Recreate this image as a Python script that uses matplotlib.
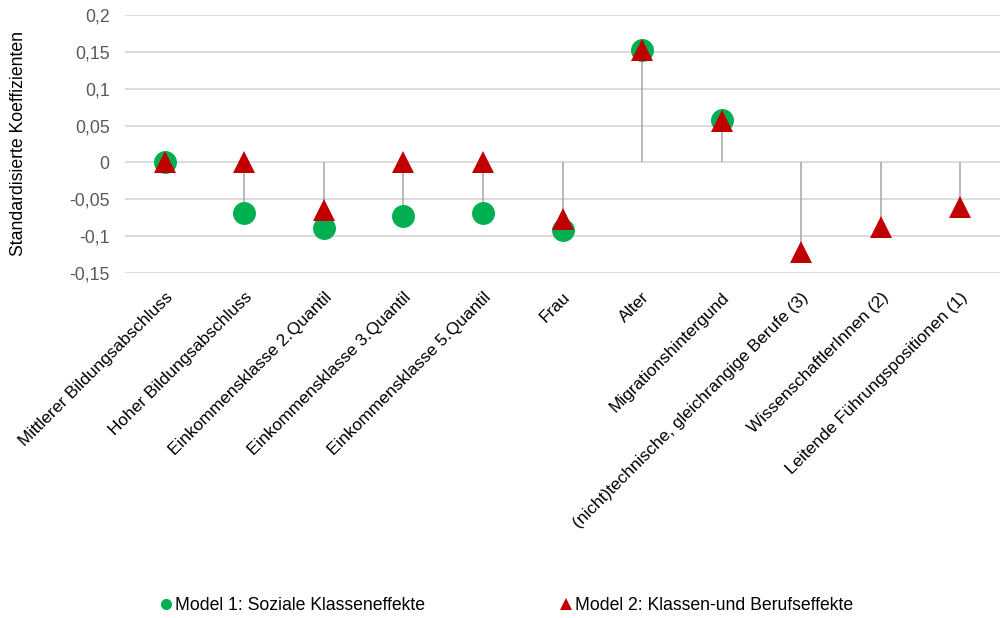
import numpy as np
import matplotlib
matplotlib.use("Agg")
import matplotlib.pyplot as plt
from matplotlib.lines import Line2D

plt.rcParams['font.family'] = ['Liberation Sans', 'DejaVu Sans']

categories = [
    "Mittlerer Bildungsabschluss",
    "Hoher Bildungsabschluss",
    "Einkommensklasse 2.Quantil",
    "Einkommensklasse 3.Quantil",
    "Einkommensklasse 5.Quantil",
    "Frau",
    "Alter",
    "Migrationshintergund",
    "(nicht)technische, gleichrangige Berufe (3)",
    "WissenschaftlerInnen (2)",
    "Leitende Führungspositionen (1)",
]
model1 = [0.0, -0.068, -0.089, -0.072, -0.068, -0.092, 0.152, 0.058, np.nan, np.nan, np.nan]
model2 = [0.0, 0.0, -0.065, 0.0, 0.0, -0.077, 0.152, 0.056, -0.121, -0.087, -0.060]
yticks = [-0.15, -0.1, -0.05, 0, 0.05, 0.1, 0.15, 0.2]
ytick_labels = ["-0,15", "-0,1", "-0,05", "0", "0,05", "0,1", "0,15", "0,2"]

green = "#00B050"
red = "#C00000"

fig = plt.figure(figsize=(10, 6.18), dpi=100)
ax = fig.add_axes([0.125, 0.558, 0.875, 0.418])
x = np.arange(len(categories))

# drop lines between 0 and the series values
for i in x:
    vals = [0.0] + [v for v in (model1[i], model2[i]) if not np.isnan(v)]
    ax.vlines(i, min(vals), max(vals), color="#A6A6A6", lw=1.1, zorder=2)

ax.plot(x, model1, ls="none", marker="o", ms=16.5, color=green, mec=green, mew=0, zorder=3)
ax.plot(x, model2, ls="none", marker="^", ms=16.5, color=red, mec=red, mew=0, zorder=4)

ax.set_xlim(-0.5, len(categories) - 0.5)
ax.set_ylim(-0.15, 0.2)
ax.set_yticks(yticks)
ax.set_yticklabels(ytick_labels, fontsize=12.7, color="#595959")
ax.set_xticks(x)
ax.set_xticklabels(categories, fontsize=12.4, color="#000000",
                   rotation=45, ha="right", va="top", rotation_mode="anchor")
ax.tick_params(length=0, axis="both")
ax.tick_params(axis="x", pad=12)
ax.tick_params(axis="y", pad=11)
ax.grid(axis="y", color="#D9D9D9", lw=1.3)
ax.set_axisbelow(True)
for s in ax.spines.values():
    s.set_visible(False)
ax.set_ylabel("Standardisierte Koeffizienten", fontsize=12.7, color="#000000")
ax.yaxis.set_label_coords(-0.112, 0.5)

handles = [
    Line2D([], [], ls="none", marker="o", ms=8, color=green, mew=0, label="Model 1: Soziale Klasseneffekte"),
    Line2D([], [], ls="none", marker="^", ms=8, color=red, mew=0, label="Model 2: Klassen-und Berufseffekte"),
]
fig.legend(handles=handles, loc="center", bbox_to_anchor=(0.5065, 1 - 606 / 618), ncol=2,
           frameon=False, fontsize=12.7, handletextpad=0.17, handlelength=0.7,
           columnspacing=7.6, borderpad=0, borderaxespad=0)

fig.savefig("out.png", dpi=100)
